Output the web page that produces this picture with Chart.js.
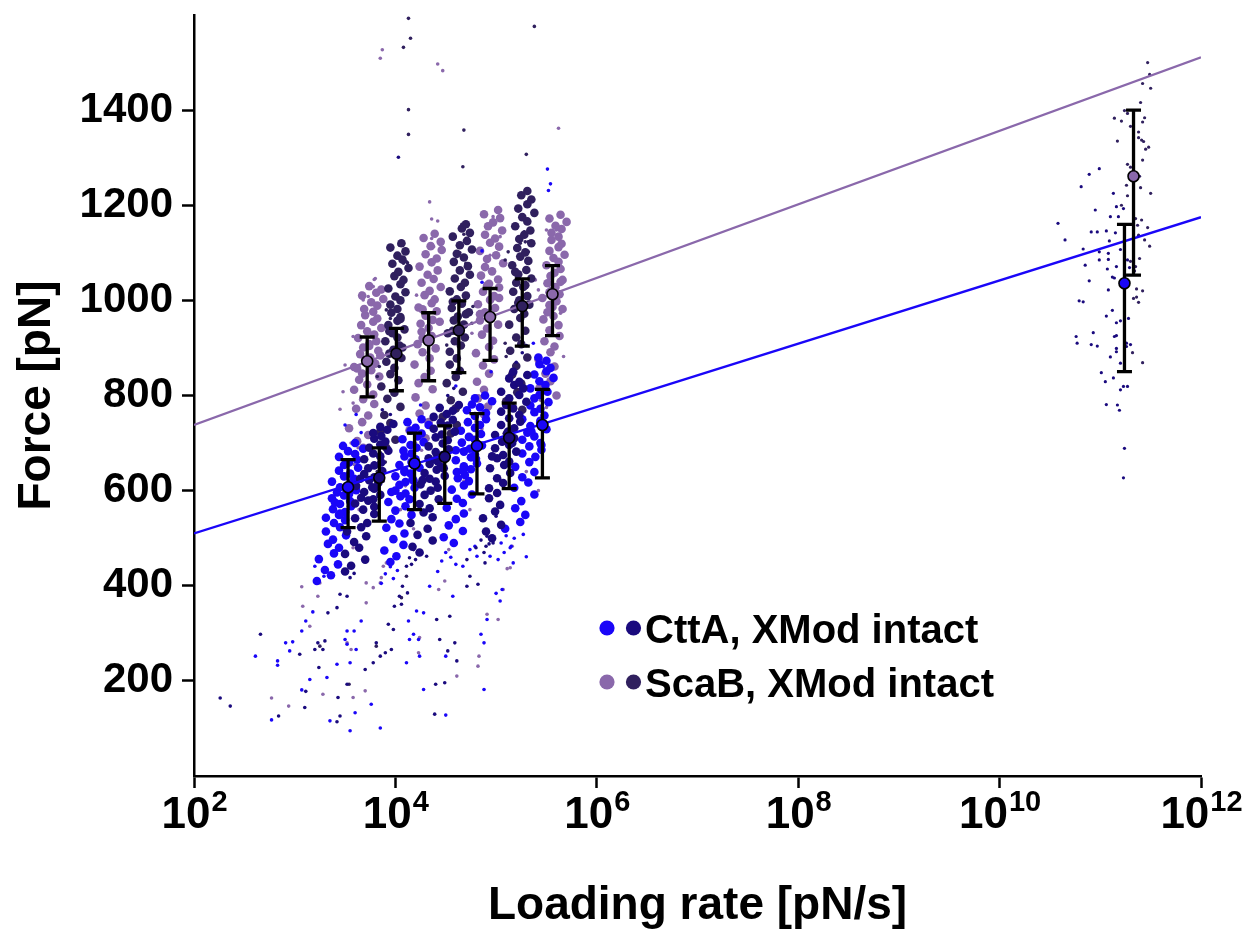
<!DOCTYPE html>
<html>
<head>
<meta charset="utf-8">
<title>Force vs loading rate</title>
<script src="https://cdn.jsdelivr.net/npm/chart.js@4.4.1/dist/chart.umd.min.js"></script>
<style>
  html, body { margin: 0; padding: 0; background: #fff; }
  #wrap { width: 1247px; height: 934px; }
</style>
</head>
<body>
<div id="wrap"><canvas id="chart" width="1247" height="934"></canvas></div>
<script>
// every point is [log10(loading rate in pN/s), force in pN]

// CttA, slow pulling speeds (bright blue clusters 1, 3, 5, 7)
const cttaBlueCore = [
  [3.22,410],[3.36,422],[3.30,433],[3.43,445],[3.24,456],[3.39,468],[3.44,480],[3.33,488],[3.38,497],[3.51,506],[3.31,514],[3.45,523],[3.39,532],[3.50,538],[3.31,543],[3.44,549],[3.50,555],[3.38,561],[3.56,567],[3.45,572],[3.55,578],[3.37,584],[3.49,590],[3.42,596],[3.61,601],[3.45,607],[3.55,613],[3.37,619],[3.59,625],[3.49,630],[3.55,636],[3.44,642],[3.63,648],[3.49,654],[3.54,659],[3.62,665],[3.44,671],[3.60,677],[3.53,683],[3.68,688],[3.48,694],[3.60,700],[3.54,593],[3.40,575],[3.45,552],
  [3.95,450],[4.01,462],[3.89,474],[4.08,486],[3.98,498],[4.09,510],[3.91,522],[4.04,531],[3.96,540],[4.16,549],[4.00,558],[4.10,567],[3.93,576],[4.14,582],[4.05,588],[4.10,594],[4.00,600],[4.19,606],[4.04,612],[4.10,618],[4.17,624],[4.00,630],[4.15,636],[4.09,642],[4.24,648],[4.04,654],[4.16,660],[4.20,666],[4.09,672],[4.16,678],[4.08,684],[4.21,690],[4.15,696],[4.28,702],[4.07,708],[4.22,714],[4.26,720],[4.15,726],[4.20,732],[4.33,738],[4.12,744],[4.26,750],[4.09,639],[4.18,621],[3.96,597],
  [4.58,490],[4.48,502],[4.67,515],[4.53,527],[4.60,540],[4.68,552],[4.51,564],[4.67,574],[4.61,583],[4.76,592],[4.56,602],[4.68,611],[4.73,620],[4.62,626],[4.69,633],[4.61,639],[4.75,645],[4.68,651],[4.81,657],[4.60,664],[4.75,670],[4.79,676],[4.68,682],[4.74,688],[4.86,695],[4.66,701],[4.79,707],[4.73,713],[4.85,719],[4.65,726],[4.79,732],[4.84,738],[4.72,744],[4.90,750],[4.79,757],[4.90,763],[4.71,769],[4.84,775],[4.76,781],[4.96,788],[4.79,794],[4.89,800],[4.60,685],[4.80,667],[4.67,642],
  [5.09,520],[5.24,534],[5.29,549],[5.19,563],[5.25,578],[5.38,592],[5.18,606],[5.32,617],[5.26,628],[5.38,639],[5.19,650],[5.33,660],[5.39,671],[5.26,678],[5.45,686],[5.33,693],[5.44,700],[5.26,707],[5.38,714],[5.31,722],[5.50,729],[5.34,736],[5.44,743],[5.26,750],[5.48,758],[5.38,765],[5.44,772],[5.34,779],[5.52,786],[5.38,794],[5.43,801],[5.51,808],[5.34,815],[5.49,822],[5.43,830],[5.57,837],[5.38,844],[5.50,851],[5.54,858],[5.43,866],[5.50,873],[5.42,880],[5.44,747],[5.35,725],[5.45,696]
];
const cttaBlueSparse = [
  [3.20,441],[3.29,420],[3.18,345],[3.11,326],[3.07,305],[3.15,203],[2.91,280],[2.98,282],[2.95,263],[2.83,242],[2.83,233],[2.61,252],[2.77,118],[3.07,181],[3.35,116],[3.55,95],[3.60,133],[3.76,151],[3.85,101],[3.32,207],[3.42,235],[3.52,305],[3.50,287],[3.59,305],[3.61,266],[3.55,238],[3.66,326],[3.52,277],
  [4.13,326],[4.21,347],[4.28,343],[4.18,298],[4.14,287],[4.23,287],[4.34,399],[4.11,238],[4.24,252],[4.28,182],[4.50,128],[4.50,252],[4.57,378],[4.67,441],[4.74,476],[4.81,462],[4.85,298],[4.88,280],[4.91,329],[4.88,182],[5.00,384],[5.04,368],[5.06,392],[5.30,461],[5.17,448],[5.15,483],[5.27,508],[4.94,462],[4.79,483],
  [3.95,440],[3.90,425],[4.02,432],[3.86,405],[3.98,415],[4.50,470],[4.46,452],[4.55,460],[4.42,430],[4.60,445],[5.10,505],[5.05,490],[5.18,500],[5.08,470],[5.14,480],[5.02,455],
  [5.51,1276],[5.54,1245],[5.52,1231],[4.86,1104],[4.86,1038],[5.37,910],[5.47,861],[3.66,722],[3.50,738],[4.25,780],[4.60,820],[4.95,850],[3.61,760]
];

// CttA, slow pulling speeds (navy clusters 2, 4, 6)
const cttaNavyCore = [
  [3.50,430],[3.56,442],[3.70,455],[3.50,467],[3.64,480],[3.59,492],[3.71,504],[3.52,514],[3.66,523],[3.72,532],[3.60,542],[3.79,551],[3.68,560],[3.79,566],[3.60,573],[3.73,579],[3.66,585],[3.85,591],[3.69,597],[3.79,604],[3.61,610],[3.83,616],[3.74,622],[3.79,628],[3.69,635],[3.87,641],[3.73,647],[3.79,653],[3.86,659],[3.69,666],[3.85,672],[3.78,678],[3.93,684],[3.74,690],[3.85,697],[3.90,703],[3.79,709],[3.86,715],[3.78,721],[3.92,728],[3.85,734],[3.98,740],[3.65,625],[3.77,607],[3.78,582],
  [4.24,470],[4.17,482],[4.37,495],[4.22,507],[4.32,520],[4.15,532],[4.37,544],[4.28,554],[4.34,563],[4.24,572],[4.43,582],[4.29,591],[4.35,600],[4.42,606],[4.25,613],[4.40,619],[4.34,625],[4.49,631],[4.29,637],[4.41,644],[4.45,650],[4.34,656],[4.42,662],[4.33,668],[4.47,675],[4.40,681],[4.53,687],[4.33,693],[4.47,699],[4.52,706],[4.40,712],[4.46,718],[4.59,724],[4.38,730],[4.52,737],[4.45,743],[4.57,749],[4.38,755],[4.51,761],[4.57,768],[4.44,774],[4.63,780],[4.40,665],[4.48,647],[4.27,622],
  [4.96,500],[4.90,514],[5.05,528],[4.87,542],[4.99,556],[5.04,570],[4.93,584],[5.01,595],[4.93,605],[5.07,616],[5.01,626],[5.14,637],[4.94,647],[5.08,654],[5.13,661],[5.01,668],[5.07,675],[5.20,682],[4.99,689],[5.13,696],[5.06,703],[5.18,710],[4.99,717],[5.12,724],[5.18,731],[5.05,738],[5.24,745],[5.13,752],[5.23,759],[5.05,766],[5.17,773],[5.10,780],[5.30,787],[5.13,794],[5.23,801],[5.05,808],[5.27,815],[5.18,822],[5.23,829],[5.13,836],[5.31,843],[5.17,850],[5.11,721],[5.16,700],[4.96,672]
];
const cttaNavySparse = [
  [2.26,164],[2.36,147],[2.66,298],[2.84,126],[3.05,256],[3.11,178],[3.10,144],[3.20,266],[3.23,280],[3.30,284],[3.28,266],[3.24,228],[3.42,114],[3.45,126],[3.43,165],[3.52,193],[3.33,343],[3.42,354],[3.52,378],[3.45,382],[3.55,417],[3.59,426],
  [3.70,224],[3.78,238],[3.85,252],[3.81,280],[3.90,259],[3.96,266],[3.98,308],[3.93,319],[3.99,357],[4.04,378],[4.07,399],[4.11,441],[4.14,459],[4.18,476],[4.06,361],[4.12,385],
  [4.39,130],[4.40,193],[4.49,196],[4.52,263],[4.54,336],[4.44,287],[4.41,329],[4.71,399],[4.74,420],[4.82,403],[4.61,242],[4.59,280],[4.71,455],[4.90,483],[4.91,504],[4.97,490],[4.89,448],[5.00,546],
  [4.26,468],[4.20,455],[4.31,462],[4.16,445],[4.85,496],[4.80,480],[4.93,488],[4.88,470],
  [4.03,1301],[3.87,770],[3.95,760],[4.52,800],[4.58,815],[5.20,870],[5.26,890],[5.30,905]
];

// ScaB, slow pulling speeds (light purple clusters 1, 3, 5, 7)
const scabLightCore = [
  [3.68,690],[3.62,704],[3.73,717],[3.54,731],[3.67,744],[3.73,758],[3.61,772],[3.79,782],[3.68,792],[3.78,802],[3.59,812],[3.72,823],[3.64,833],[3.84,840],[3.67,846],[3.76,853],[3.59,860],[3.80,867],[3.70,874],[3.75,880],[3.65,887],[3.83,894],[3.68,901],[3.74,908],[3.81,914],[3.63,921],[3.79,928],[3.72,935],[3.86,942],[3.66,948],[3.78,955],[3.82,962],[3.70,969],[3.78,976],[3.69,982],[3.82,989],[3.76,996],[3.88,1003],[3.67,1010],[3.81,1016],[3.86,1023],[3.74,1030],[3.74,904],[3.85,884],[3.62,857],
  [4.30,710],[4.14,727],[4.33,744],[4.24,762],[4.30,779],[4.20,796],[4.37,813],[4.23,826],[4.29,839],[4.35,852],[4.19,865],[4.34,878],[4.27,891],[4.40,899],[4.22,908],[4.33,916],[4.36,925],[4.26,934],[4.33,942],[4.25,951],[4.37,959],[4.30,968],[4.41,977],[4.23,985],[4.36,994],[4.39,1002],[4.29,1011],[4.34,1020],[4.45,1028],[4.26,1037],[4.38,1045],[4.32,1054],[4.42,1063],[4.24,1071],[4.36,1080],[4.41,1088],[4.30,1097],[4.46,1106],[4.35,1114],[4.45,1123],[4.28,1131],[4.39,1140],[4.27,981],[4.44,955],[4.27,921],
  [4.88,760],[4.92,777],[4.82,794],[4.88,812],[4.81,829],[4.93,846],[4.87,863],[4.98,876],[4.80,889],[4.93,902],[4.97,915],[4.86,928],[4.91,941],[5.02,949],[4.84,958],[4.95,966],[4.89,975],[4.99,984],[4.82,992],[4.94,1001],[4.98,1009],[4.87,1018],[5.03,1027],[4.93,1035],[5.02,1044],[4.85,1052],[4.96,1061],[4.89,1070],[5.07,1078],[4.91,1087],[5.00,1095],[4.84,1104],[5.03,1113],[4.94,1121],[4.99,1130],[4.89,1138],[5.06,1147],[4.92,1156],[4.97,1164],[5.04,1173],[4.88,1181],[5.02,1190],[4.91,1031],[5.03,1005],[4.84,971],
  [5.60,800],[5.43,815],[5.54,830],[5.49,846],[5.58,861],[5.42,876],[5.54,891],[5.58,903],[5.48,914],[5.63,925],[5.53,937],[5.62,948],[5.47,960],[5.57,967],[5.51,975],[5.66,982],[5.53,990],[5.60,998],[5.46,1005],[5.63,1013],[5.55,1020],[5.59,1028],[5.51,1036],[5.66,1043],[5.54,1051],[5.58,1058],[5.64,1066],[5.50,1074],[5.62,1081],[5.57,1089],[5.68,1096],[5.53,1104],[5.62,1112],[5.65,1119],[5.55,1127],[5.62,1134],[5.55,1142],[5.65,1150],[5.59,1157],[5.70,1165],[5.53,1172],[5.64,1180],[5.64,1039],[5.53,1017],[5.56,986]
];
const scabLightSparse = [
  [3.07,398],[3.08,357],[3.15,315],[3.23,378],[3.25,406],[2.77,164],[2.94,147],[3.28,172],[3.52,280],[3.56,266],[3.58,165],[3.70,179],[3.71,406],[3.78,396],[3.85,406],[3.88,441],[3.91,448],[3.86,417],[3.71,364],
  [4.23,259],[4.24,291],[4.43,392],[4.49,410],[4.53,476],[4.61,210],[4.83,252],[4.82,231],[4.91,340],[5.02,329],[5.07,392],[5.11,436],[5.14,438],[5.16,483],
  [3.56,700],[3.63,690],[3.50,665],[3.59,655],[3.66,630],[3.54,620],[3.61,605],[3.47,590],[3.57,575],[3.64,560],[3.52,545],[3.58,480],[3.48,520],
  [4.20,700],[4.26,685],[4.16,670],[4.23,655],[4.12,640],[4.10,610],[4.05,560],[4.18,520],[4.80,745],[4.86,730],[4.76,715],[4.83,700],[4.68,620],[4.74,560],
  [5.44,790],[5.50,775],[5.40,760],[5.47,740],[5.35,720],[5.45,680],[5.30,640],[5.42,600],
  [3.87,1527],[3.85,1509],[4.42,1497],[4.47,1483],[5.62,1362],[3.66,1015],[3.73,1008],[3.80,1046],[3.78,1029],[3.68,1001],[3.58,924],[3.50,864],[4.36,1130],[4.38,1113],[4.21,1011],[4.23,987],
  [4.94,1095],[5.04,1134],[5.50,1148],[5.60,1148],[4.82,973],[4.76,931],[5.39,1043],[5.42,1022],[5.64,973],[5.67,882],[4.34,1207],[4.36,1171],[4.42,1167],[4.97,1176],[5.02,1174],[5.63,1178],[5.60,1158],[3.79,1044],[3.45,771],[3.48,808],[3.58,784]
];

// ScaB, slow pulling speeds (dark purple clusters 2, 4, 6)
const scabDarkCore = [
  [3.91,690],[4.00,707],[3.85,724],[3.95,742],[3.89,759],[4.05,776],[3.92,793],[3.99,806],[3.86,819],[4.03,832],[3.95,845],[3.99,858],[3.91,871],[4.06,879],[3.94,888],[3.98,896],[4.04,905],[3.90,914],[4.02,922],[3.97,931],[4.09,939],[3.93,948],[4.02,957],[4.05,965],[3.96,974],[4.02,982],[3.95,991],[4.05,1000],[4.00,1008],[4.10,1017],[3.93,1025],[4.05,1034],[4.08,1043],[3.99,1051],[4.03,1060],[4.13,1068],[3.97,1077],[4.07,1086],[4.02,1094],[4.10,1103],[3.95,1111],[4.06,1120],[4.05,961],[3.94,935],[4.07,901],
  [4.55,720],[4.61,738],[4.47,755],[4.60,773],[4.55,790],[4.67,808],[4.51,826],[4.60,839],[4.64,852],[4.54,865],[4.61,878],[4.54,892],[4.65,905],[4.59,914],[4.69,922],[4.52,931],[4.64,940],[4.68,949],[4.58,958],[4.62,966],[4.73,975],[4.56,984],[4.66,993],[4.61,1002],[4.70,1010],[4.54,1019],[4.65,1028],[4.69,1037],[4.59,1046],[4.74,1054],[4.64,1063],[4.72,1072],[4.58,1081],[4.68,1090],[4.61,1098],[4.76,1107],[4.64,1116],[4.71,1125],[4.57,1134],[4.74,1142],[4.66,1151],[4.70,1160],[4.57,997],[4.70,971],[4.57,936],
  [5.26,770],[5.10,788],[5.21,807],[5.25,825],[5.16,844],[5.20,862],[5.31,880],[5.14,894],[5.25,908],[5.20,922],[5.29,936],[5.13,949],[5.24,963],[5.28,972],[5.18,982],[5.33,991],[5.23,1000],[5.31,1009],[5.17,1018],[5.27,1028],[5.20,1037],[5.35,1046],[5.22,1055],[5.30,1064],[5.16,1074],[5.32,1083],[5.24,1092],[5.29,1101],[5.21,1110],[5.35,1120],[5.23,1129],[5.28,1138],[5.34,1147],[5.19,1156],[5.31,1166],[5.26,1175],[5.38,1184],[5.22,1193],[5.31,1202],[5.35,1212],[5.25,1221],[5.31,1230],[5.19,1060],[5.29,1032],[5.22,995]
];
const scabDarkSparse = [
  [4.13,1593],[4.15,1551],[4.08,1532],[4.13,1401],[4.13,1349],[4.68,1358],[4.67,1281],[5.30,1307],[5.38,1576],
  [4.04,1116],[4.00,1058],[4.08,1078],[4.12,1079],[3.91,980],[3.95,962],[3.84,861],[3.82,840],[4.51,906],[4.64,1100],[4.61,1092],[4.70,1078],[5.12,1102],[5.09,1085],[5.24,1120],[5.29,1123],[5.32,1102],[5.09,910],[5.10,882],[4.77,987],[4.76,952],[5.17,840],[4.66,1160],[4.68,1139],[5.28,1144],[5.32,1123],[4.04,1118],[4.11,1081],
  [3.25,273],[3.54,193],[3.81,273],[4.06,375],[4.11,420],[3.85,680],[3.90,660],[3.82,640],[3.88,620],[4.47,700],[4.53,690],[4.44,670],[5.12,750],[5.18,735],[5.08,720]
];

// highest loading rate (single cluster near 10^11 pN/s)
const cttaFast = [
  [10.99,1277],[10.89,1265],[10.81,1239],[11.13,1225],[11.16,1197],[11.23,1193],[10.95,1190],[11.10,1176],[11.18,1176],[10.58,1162],[10.91,1144],[10.97,1144],[11.06,1146],[11.15,1142],[10.65,1127],[11.09,1125],[10.83,1108],[11.20,1107],[10.99,1102],[11.08,1099],[11.27,1085],[10.99,1085],[11.08,1086],[10.85,1074],[11.16,1071],[11.07,1066],[11.29,1069],[11.12,1049],[11.14,1047],[10.89,1041],[11.08,1022],[10.79,999],
  [10.83,997],[11.12,979],[11.06,967],[11.16,953],[11.20,957],[11.28,962],[10.76,924],[10.77,910],[10.93,932],[10.91,907],[10.97,904],[11.14,924],[11.16,926],[11.26,910],[11.30,907],[11.16,899],[11.16,892],[11.26,903],[11.10,881],[11.20,868],[11.01,848],[11.13,837],[11.05,829],[11.20,812],[11.23,819],[11.27,819],[11.06,781],[11.17,780],[11.19,769],[11.24,689],[11.23,627]
];
const scabFast = [
  [11.47,1500],[11.49,1475],[11.42,1456],[11.50,1446],[11.40,1416],[11.24,1399],[11.27,1393],[11.14,1383],[11.21,1377],[11.44,1384],[11.42,1375],[11.30,1366],[11.38,1354],[11.17,1335],[11.38,1342],[11.41,1337],[11.43,1334],[11.48,1322],[11.45,1318],[11.42,1295],[11.27,1286],[11.30,1280],[11.39,1261],
  [11.26,1242],[11.40,1237],[11.50,1225],[11.27,1220],[11.21,1200],[11.35,1172],[11.41,1169],[11.37,1158],[11.47,1153],[11.38,1137],[11.44,1127],[11.49,1114],[11.30,1082],[11.39,1088],[11.35,1071],[11.34,1062],[11.42,1020],[11.36,1024],[11.33,1004],[11.38,996],[11.36,1007],[11.32,890],[11.42,869]
];

// means with error bars
const cttaRateLog = [3.53, 3.84, 4.19, 4.49, 4.81, 5.13, 5.46, 11.24];
const cttaMean = [607, 627, 657, 671, 694, 711, 738, 1036];
const cttaHigh = [665, 690, 721, 736, 762, 784, 813, 1160];
const cttaLow  = [522, 536, 560, 573, 593, 604, 627, 850];
const scabRateLog = [3.72, 4.01, 4.33, 4.63, 4.94, 5.26, 5.56, 11.33];
const scabMean = [872, 888, 916, 937, 965, 988, 1013, 1261];
const scabHigh = [923, 941, 974, 999, 1025, 1045, 1073, 1400];
const scabLow  = [797, 810, 831, 848, 874, 904, 926, 1053];

// Bell-Evans fits (force at the two ends of the axis)
const fitRates = [1e2, 1e12];
const cttaFit = [510, 1175];
const scabFit = [738, 1511];

const xTickValues = [1e2, 1e4, 1e6, 1e8, 1e10, 1e12];
const yTickValues = [200, 400, 600, 800, 1000, 1200, 1400];

const BLUE = '#1a06f8', NAVY = '#1a0a7e', LIGHT = '#8a68ab', DARK = '#30205e';
const FONT = '"Liberation Sans", Arial, Helvetica, sans-serif';

const toPts = arr => arr.map(([lr, f]) => ({ x: Math.pow(10, lr), y: f }));
const fitPts = ys => fitRates.map((r, i) => ({ x: r, y: ys[i] }));
const meanPts = (rates, ys) => rates.map((lr, i) => ({ x: Math.pow(10, lr), y: ys[i] }));

function cloud(data, color, r, order) {
  return { data: toPts(data), pointRadius: r, pointBackgroundColor: color, pointBorderWidth: 0, pointHoverRadius: r, showLine: false, order };
}

// black error bars, drawn just before each mean dataset so the circles sit on top
const errorBars = {
  id: 'errorBars',
  beforeDatasetDraw(chart, args) {
    const ds = chart.data.datasets[args.index];
    if (!ds.errHigh) return;
    const ctx = chart.ctx, xs = chart.scales.x, ys = chart.scales.y;
    ctx.save();
    ctx.strokeStyle = '#000';
    ctx.lineWidth = 3.3;
    ds.data.forEach((p, i) => {
      const x = xs.getPixelForValue(p.x);
      const yh = ys.getPixelForValue(ds.errHigh[i]);
      const yl = ys.getPixelForValue(ds.errLow[i]);
      ctx.beginPath();
      ctx.moveTo(x, yh); ctx.lineTo(x, yl);
      ctx.moveTo(x - 7.5, yh); ctx.lineTo(x + 7.5, yh);
      ctx.moveTo(x - 7.5, yl); ctx.lineTo(x + 7.5, yl);
      ctx.stroke();
    });
    ctx.restore();
  }
};

// "10" with a raised exponent under each major tick
const powerLabels = {
  id: 'powerLabels',
  afterDraw(chart) {
    const ctx = chart.ctx, xs = chart.scales.x, base = chart.chartArea.bottom;
    ctx.save();
    ctx.fillStyle = '#000';
    ctx.textBaseline = 'alphabetic';
    xTickValues.forEach(v => {
      const px = xs.getPixelForValue(v);
      const exp = String(Math.round(Math.log10(v)));
      ctx.font = 'bold 44px ' + FONT;
      const w1 = ctx.measureText('10').width;
      ctx.font = 'bold 29px ' + FONT;
      const w2 = ctx.measureText(exp).width;
      const left = px - (w1 + w2) / 2;
      ctx.font = 'bold 44px ' + FONT;
      ctx.fillText('10', left, base + 52);
      ctx.font = 'bold 29px ' + FONT;
      ctx.fillText(exp, left + w1 + 1, base + 35);
    });
    ctx.restore();
  }
};

// legend with two dots per construct
const dotLegend = {
  id: 'dotLegend',
  afterDraw(chart) {
    const ctx = chart.ctx;
    const rows = [
      { text: 'CttA, XMod intact', colors: [BLUE, NAVY], y: 628 },
      { text: 'ScaB, XMod intact', colors: [LIGHT, DARK], y: 682 }
    ];
    ctx.save();
    rows.forEach(row => {
      row.colors.forEach((c, i) => {
        ctx.beginPath();
        ctx.fillStyle = c;
        ctx.arc(607 + i * 26.5, row.y, 7.6, 0, Math.PI * 2);
        ctx.fill();
      });
      ctx.fillStyle = '#000';
      ctx.font = 'bold 40px ' + FONT;
      ctx.textBaseline = 'alphabetic';
      ctx.fillText(row.text, 645, row.y + 15);
    });
    ctx.restore();
  }
};

const datasets = [
  cloud(scabLightCore, LIGHT, 4.3, 30),
  cloud(scabLightSparse, LIGHT, 1.8, 29),
  cloud(scabDarkCore, DARK, 4.3, 28),
  cloud(scabDarkSparse, DARK, 1.8, 27),
  cloud(cttaBlueCore, BLUE, 4.3, 26),
  cloud(cttaBlueSparse, BLUE, 1.8, 25),
  cloud(cttaNavyCore, NAVY, 4.3, 24),
  cloud(cttaNavySparse, NAVY, 1.8, 23),
  cloud(scabFast, DARK, 1.6, 22),
  cloud(cttaFast, NAVY, 1.6, 21),
  { data: fitPts(scabFit), showLine: true, borderColor: LIGHT, borderWidth: 2.4, pointRadius: 0, order: 6 },
  { data: fitPts(cttaFit), showLine: true, borderColor: BLUE, borderWidth: 2.4, pointRadius: 0, order: 5 },
  { data: meanPts(scabRateLog, scabMean), errHigh: scabHigh, errLow: scabLow, showLine: false,
    pointRadius: 5.5, pointBorderWidth: 1.6, pointBorderColor: '#000',
    pointBackgroundColor: [LIGHT, DARK, LIGHT, DARK, LIGHT, DARK, LIGHT, LIGHT], order: 2 },
  { data: meanPts(cttaRateLog, cttaMean), errHigh: cttaHigh, errLow: cttaLow, showLine: false,
    pointRadius: 5.5, pointBorderWidth: 1.6, pointBorderColor: '#000',
    pointBackgroundColor: [BLUE, NAVY, BLUE, NAVY, BLUE, NAVY, BLUE, BLUE], order: 1 }
];

new Chart(document.getElementById('chart'), {
  type: 'scatter',
  data: { datasets },
  plugins: [errorBars, powerLabels, dotLegend],
  options: {
    responsive: false,
    animation: false,
    devicePixelRatio: 1,
    events: [],
    layout: { padding: { left: 0, right: 46, top: 15, bottom: 0 } },
    plugins: { legend: { display: false }, tooltip: { enabled: false } },
    scales: {
      x: {
        type: 'logarithmic',
        min: 1e2,
        max: 1e12,
        afterBuildTicks: s => { s.ticks = xTickValues.map(v => ({ value: v })); },
        afterFit: s => { s.height = 158; s.paddingLeft = 0; s.paddingRight = 0; },
        ticks: { autoSkip: false, callback: () => '' },
        grid: { drawOnChartArea: false, drawTicks: true, tickLength: 12, tickWidth: 2.5, tickColor: '#000' },
        border: { color: '#000', width: 2.5 },
        title: { display: true, text: 'Loading rate [pN/s]', color: '#000',
                 font: { family: FONT, size: 46, weight: 'bold' }, padding: { top: 0, bottom: 0 } }
      },
      y: {
        min: 0,
        max: 1600,
        afterBuildTicks: s => { s.ticks = yTickValues.map(v => ({ value: v })); },
        afterFit: s => { s.width = 194; s.paddingTop = 0; s.paddingBottom = 0; },
        ticks: { color: '#000', padding: 9, font: { family: FONT, size: 42, weight: 'bold' }, callback: v => String(v) },
        grid: { drawOnChartArea: false, drawTicks: true, tickLength: 12, tickWidth: 2.5, tickColor: '#000' },
        border: { color: '#000', width: 2.5 },
        title: { display: true, text: 'Force [pN]', color: '#000',
                 font: { family: FONT, size: 46, weight: 'bold' }, padding: { top: 10, bottom: 0 } }
      }
    }
  }
});
</script>
</body>
</html>
